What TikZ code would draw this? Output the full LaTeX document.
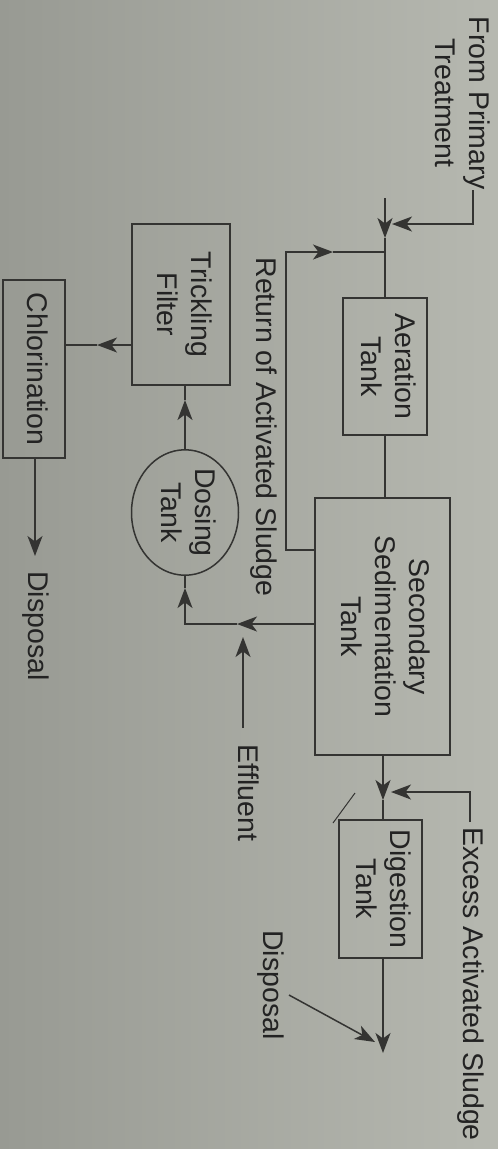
\documentclass[tikz,border=0pt]{standalone}
\usepackage{fontspec}
\setmainfont{Liberation Sans}
\usepackage{graphicx}
\usetikzlibrary{arrows.meta,shapes.geometric}
\definecolor{ink}{RGB}{35,35,35}
\definecolor{linec}{RGB}{52,52,50}
\definecolor{bgL}{RGB}{152,154,147}
\definecolor{bgR}{RGB}{182,184,176}
\newcommand{\rt}[1]{\rotatebox{-90}{\begin{tabular}{@{}c@{}}#1\end{tabular}}}
\begin{document}
\begin{tikzpicture}[x=1pt,y=-1pt,
  every node/.style={font=\fontsize{28.5}{34}\selectfont, text=ink, inner sep=0pt},
  box/.style={draw=linec, line width=1.5pt, rectangle},
  conn/.style={draw=linec, line width=1.5pt},
  arr/.style={conn, -{Stealth[length=20pt,width=15pt,inset=5.5pt]}},
]
\shade[left color=bgL,right color=bgR] (0,0) rectangle (498,1149);
\useasboundingbox (0,0) rectangle (498,1149);

% nodes
\node (prim) at (459,103) {\rt{From Primary\\Treatment}};
\node[box, minimum width=84pt, minimum height=137pt] (aer) at (385,366.5) {\rt{Aeration\\Tank}};
\node[box, minimum width=135pt, minimum height=257pt] (sec) at (382.5,626.5) {\rt{Secondary\\Sedimentation\\Tank}};
\node[box, minimum width=83pt, minimum height=138pt] (dig) at (380.5,889) {\rt{Digestion\\Tank}};
\node[box, minimum width=98pt, minimum height=161pt] (tf) at (181,304.5) {\rt{Trickling\\Filter}};
\node[box, minimum width=62pt, minimum height=178pt] (chl) at (34,369) {\rt{Chlorination}};
\node[draw=linec, line width=1.5pt, ellipse, minimum width=107pt, minimum height=115pt] (dos) at (185,512.5) {\rt{Dosing\\Tank}};
\node (ret) at (263,427) {\rt{Return of Activated Sludge}};
\node (eff) at (245,793) {\rt{Effluent}};
\node (exc) at (470,984) {\rt{Excess Activated Sludge}};
\node (disp1) at (35,626) {\rt{Disposal}};
\node (disp2) at (270,985) {\rt{Disposal}};

% main line into aeration tank
\coordinate (mtop) at (385,198);
\coordinate (m1) at (385,238);
\draw[arr] (mtop) -- (m1);
\draw[conn] (m1) -- (aer.north);

% from primary treatment
\coordinate (p0) at (473,190);
\coordinate (p1) at (473,224);
\coordinate (p2) at (392,224);
\draw[arr] (p0) -- (p1) -- (p2);

% return of activated sludge
\coordinate (r1) at (286,550);
\coordinate (r2) at (286,252);
\coordinate (r3) at (333,252);
\coordinate (r4) at (385,252);
\draw[arr] (sec.west |- r1) -- (r1) -- (r2) -- (r3);
\draw[conn] (r3) -- (r4);

% aeration to secondary
\draw[conn] (aer.south) -- (aer.south |- sec.north);

% secondary to digestion
\coordinate (s1) at (383,800);
\draw[arr] (sec.south -| s1) -- (s1);
\draw[conn] (s1) -- (dig.north -| s1);

% excess activated sludge
\coordinate (e0) at (470,822);
\coordinate (e1) at (470,792);
\coordinate (e2) at (391,792);
\draw[arr] (e0) -- (e1) -- (e2);

% digestion to disposal
\coordinate (d1) at (383,1053);
\draw[arr] (dig.south -| d1) -- (d1);
\coordinate (q0) at (289,995);
\coordinate (q1) at (375,1042);
\draw[arr] (q0) -- (q1);

% effluent line to dosing tank
\coordinate (f1) at (237,624);
\coordinate (f2) at (185,624);
\coordinate (f3) at (185,588);
\draw[arr] (sec.west |- f1) -- (f1);
\draw[arr] (f1) -- (f2) -- (f3);
\draw[conn] (f3) -- (dos.south);

% effluent arrow
\coordinate (g0) at (243,728);
\coordinate (g1) at (243,637);
\draw[arr] (g0) -- (g1);

% dosing tank to trickling filter
\coordinate (t1) at (185,400);
\draw[arr] (dos.north) -- (t1);
\draw[conn] (t1) -- (tf.south -| t1);

% trickling filter to chlorination
\coordinate (c1) at (97,345);
\draw[arr] (tf.west |- c1) -- (c1);
\draw[conn] (c1) -- (chl.east |- c1);

% chlorination to disposal
\coordinate (c2) at (35,556);
\draw[arr] (chl.south -| c2) -- (c2);

% stray mark
\coordinate (x0) at (333,823);
\coordinate (x1) at (355,793);
\draw[conn, line width=1pt] (x0) -- (x1);
\end{tikzpicture}
\end{document}
